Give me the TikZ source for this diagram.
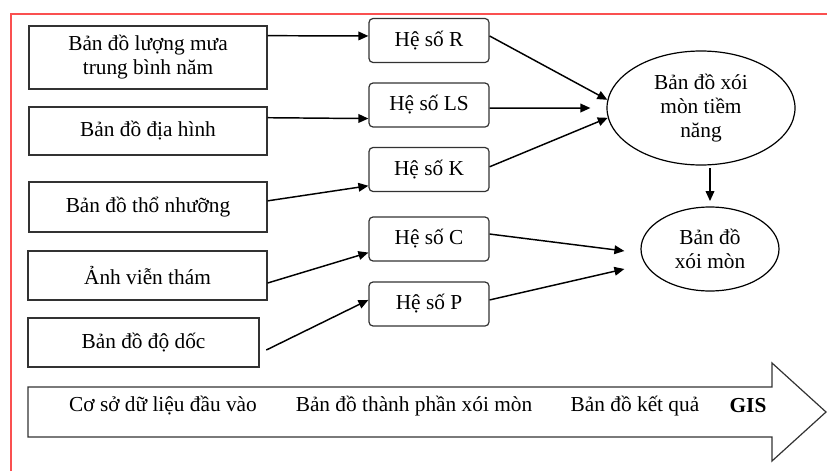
\documentclass[tikz,border=0pt]{standalone}
\usepackage{fontspec}
\setmainfont{Liberation Serif}
\usepackage{xcolor}
\usetikzlibrary{arrows.meta,calc,shapes.geometric}

\definecolor{frame}{RGB}{250,80,80}
\definecolor{edge}{RGB}{50,50,50}

\begin{document}
\begin{tikzpicture}[x=0.75pt,y=-0.75pt,
            font=\fontsize{16}{18}\selectfont,
            box/.style = {draw=edge, line width=0.9pt, inner sep=0pt,
                        align=center, minimum width=178.5pt},
            coef/.style = {draw=edge, line width=0.9pt, rounded corners=3pt,
                        inner sep=0pt, minimum width=90pt, minimum height=33pt},
            result/.style = {ellipse, draw=black, line width=0.9pt,
                        inner sep=0pt, align=center},
            link/.style = {-{Triangle[length=7.5pt,width=6.5pt]}, line width=1.1pt}]
            \useasboundingbox (0,0) rectangle (827,471);
            % Frame
            \draw[frame, line width=0.9pt] (11,471) -- (11,14) -- (827,14);
            % Input data
            \node[box, minimum height=47.25pt] (rain) at (148,57.5) {Bản đồ lượng mưa\\trung bình năm};
            \node[box, minimum height=36pt] (topo) at (148,131) {Bản đồ địa hình};
            \node[box, minimum height=37.5pt] (soil) at (148,207) {Bản đồ thổ nhưỡng};
            \node[box, minimum height=36.75pt, minimum width=179.25pt] (sat) at (147.5,275.5) {Ảnh viễn thám};
            \node[box, minimum height=36.75pt, minimum width=173.25pt] (slope) at (143.5,342.5) {Bản đồ độ dốc};
            % Factors
            \node[coef] (R) at (429,40.5) {Hệ số R};
            \node[coef] (LS) at (429,105) {Hệ số LS};
            \node[coef] (K) at (429,169.5) {Hệ số K};
            \node[coef] (C) at (429,239) {Hệ số C};
            \node[coef] (P) at (429,304) {Hệ số P};
            % Result maps
            \node[result, minimum width=141pt, minimum height=85.5pt] (pot) at (701,108) {Bản đồ xói\\mòn tiềm\\năng};
            \node[result, minimum width=103.5pt, minimum height=63pt] (ero) at (710,249) {Bản đồ\\xói mòn};
            % Inputs to factors
            \draw[link] ($(rain.north east)!0.16!(rain.south east)$) -- ($(R.north west)!0.4!(R.south west)$);
            \draw[link] ($(topo.north east)!0.23!(topo.south east)$) -- ($(LS.north west)!0.8!(LS.south west)$);
            \draw[link] ($(soil.north east)!0.38!(soil.south east)$) -- ($(K.north west)!0.86!(K.south west)$);
            \draw[link] ($(sat.north east)!0.65!(sat.south east)$) -- ($(C.north west)!0.8!(C.south west)$);
            \draw[link] ([xshift=5pt]$(slope.north east)!0.65!(slope.south east)$) -- ($(P.north west)!0.41!(P.south west)$);
            % Factors to maps
            \draw[link] ($(R.north east)!0.4!(R.south east)$) -- (pot.175);
            \draw[link] ($(LS.north east)!0.57!(LS.south east)$) -- ([xshift=-12pt]pot.west);
            \draw[link] ($(K.north east)!0.44!(K.south east)$) -- (pot.186);
            \draw[link] ([yshift=-2pt]pot.south -| ero.north) -- ([yshift=4pt]ero.north);
            \draw[link] ($(C.north east)!0.39!(C.south east)$) -- ([xshift=-12pt,yshift=-1.5pt]ero.west);
            \draw[link] ($(P.north east)!0.41!(P.south east)$) -- ([xshift=-12pt,yshift=-15pt]ero.west);
            % GIS arrow
            \draw[edge, line width=0.9pt] (28,387) -- (772,387) -- (772,363) -- (826,412)
                -- (772,461) -- (772,437) -- (28,437) -- cycle;
            \node (db) at (163,406) {Cơ sở dữ liệu đầu vào};
            \node (part) at (414,406) {Bản đồ thành phần xói mòn};
            \node (res) at (635,406) {Bản đồ kết quả};
            \node[font=\fontsize{16}{18}\selectfont\bfseries] (gis) at (748,406) {GIS};
        \end{tikzpicture}
\end{document}
